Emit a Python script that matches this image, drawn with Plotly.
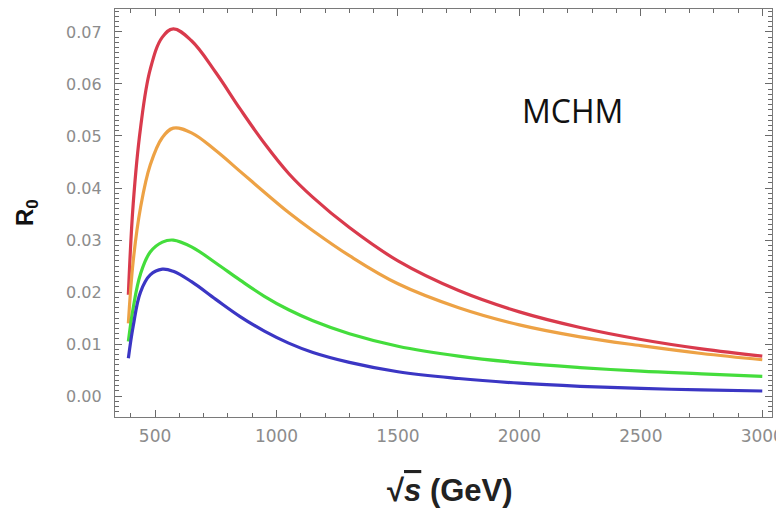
import plotly.graph_objects as go

# sqrt(s) in GeV
sqrt_s = [390, 410, 440, 480, 530, 575, 650, 750, 850, 950, 1050, 1150,
          1300, 1500, 1750, 2000, 2250, 2500, 2750, 3000]

r0_red = [0.0195, 0.0370, 0.0515, 0.0628, 0.0690, 0.0706, 0.0683, 0.0622,
          0.0552, 0.0486, 0.0428, 0.0382, 0.0324, 0.0260, 0.0203, 0.0162,
          0.0132, 0.0109, 0.0091, 0.0077]
r0_orange = [0.0140, 0.0260, 0.0362, 0.0444, 0.0497, 0.0515, 0.0506, 0.0472,
             0.0432, 0.0392, 0.0353, 0.0318, 0.0270, 0.0216, 0.0170, 0.0137,
             0.0114, 0.0097, 0.0082, 0.0070]
r0_green = [0.0105, 0.0170, 0.0235, 0.0277, 0.0296, 0.0300, 0.0287, 0.0256,
            0.0223, 0.0192, 0.0166, 0.0145, 0.0120, 0.0096, 0.0077, 0.0064,
            0.0055, 0.0048, 0.0043, 0.0038]
r0_blue = [0.0073, 0.0135, 0.0200, 0.0233, 0.0244, 0.0240, 0.0220, 0.0186,
           0.0153, 0.0125, 0.0102, 0.0084, 0.0065, 0.0047, 0.0034, 0.0025,
           0.0019, 0.0015, 0.0012, 0.0010]

x_ticks = [500, 1000, 1500, 2000, 2500, 3000]
y_ticks = [0.00, 0.01, 0.02, 0.03, 0.04, 0.05, 0.06, 0.07]

series = [
    (r0_red, "#d93a4c"),
    (r0_orange, "#eda245"),
    (r0_green, "#44dd3c"),
    (r0_blue, "#3b36c4"),
]

fig = go.Figure()
for ys, col in series:
    fig.add_trace(go.Scatter(x=sqrt_s, y=ys, mode="lines",
                             line=dict(color=col, width=3.2, shape="spline", smoothing=1.1),
                             showlegend=False, hoverinfo="skip"))

axis_common = dict(
    showgrid=False, zeroline=False, showline=True, linecolor="#7a7a7a", linewidth=1.3,
    mirror="allticks", ticks="inside", tickcolor="#6a6a6a", ticklen=7, tickwidth=1.2,
)

fig.update_xaxes(
    range=[335, 3040], tickvals=x_ticks, ticktext=[str(v) for v in x_ticks],
    tickfont=dict(family="DejaVu Sans", size=17, color="#8c8c8c"),
    ticklabelstandoff=3,
    minor=dict(dtick=100, tick0=0, ticks="inside", ticklen=4, tickcolor="#6a6a6a", tickwidth=1),
    **axis_common,
)
fig.update_yaxes(
    range=[-0.0040, 0.0744], tickvals=y_ticks, ticktext=[f"{v:.2f}" for v in y_ticks],
    tickfont=dict(family="DejaVu Sans", size=16, color="#8c8c8c"),
    ticklabelstandoff=9,
    minor=dict(dtick=0.001, tick0=0, ticks="inside", ticklen=4, tickcolor="#6a6a6a", tickwidth=1),
    **axis_common,
)

PW, PH = 657, 408
fig.add_annotation(text="MCHM", xref="paper", yref="paper", x=(572 - 115) / PW,
                   y=(417 - 110) / PH, xanchor="center", yanchor="middle", showarrow=False,
                   font=dict(family="Open Sans", size=32, color="#111111"))
fig.add_annotation(text="<b>R<sub>0</sub></b>", xref="paper", yref="paper",
                   x=(26 - 115) / PW, y=0.5, xanchor="center", yanchor="middle",
                   textangle=-90, showarrow=False,
                   font=dict(family="Liberation Sans", size=24, color="#111111"))
fig.add_annotation(text="<b>√<span style='text-decoration:overline'><i>s</i></span> (GeV)</b>",
                   xref="paper", yref="paper", xanchor="center", yanchor="middle",
                   x=(450 - 115) / PW, y=(417 - 490) / PH, showarrow=False,
                   font=dict(family="Liberation Sans", size=31, color="#222222"))

# the page body adds an 8px margin, so the figure is 8px smaller and margins shifted
fig.update_layout(
    width=776, height=515,
    margin=dict(l=107, r=12, t=1, b=106),
    paper_bgcolor="white", plot_bgcolor="white",
)

fig.write_html("out.html")
